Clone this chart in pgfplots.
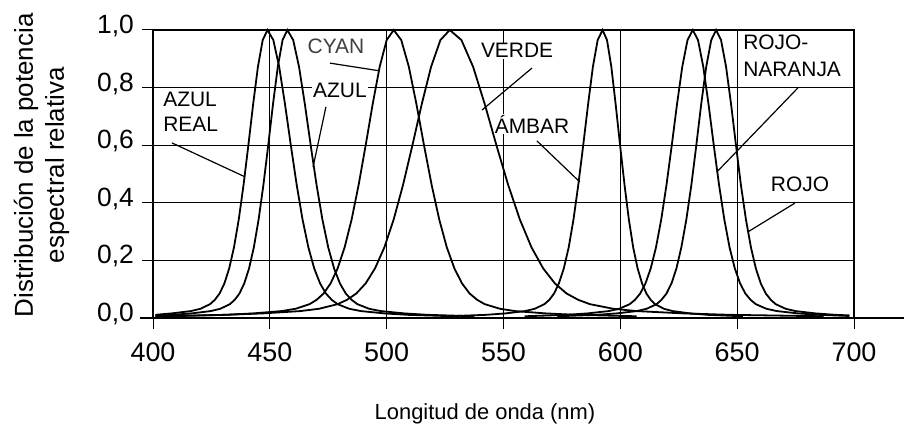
\documentclass[border=0pt]{standalone}
\usepackage{pgfplots}
\pgfplotsset{compat=1.18}
\usepackage{fontspec}
\setmainfont{Liberation Sans}
\tikzset{lbl/.style={fill=white, inner sep=1bp, font=\fontsize{21}{24}\selectfont},
  spec/.style={black, mark=none, solid, line width=1.8bp}}
\begin{document}
\begin{tikzpicture}
\begin{axis}[
  name=ax,
  at={(153bp,111bp)}, anchor=south west,
  scale only axis, width=701bp, height=288bp,
  xmin=400, xmax=700, ymin=0, ymax=1,
  clip=false,
  axis line style={line width=2.4bp},
  xtick={400,450,500,550,600,650,700},
  xticklabels={400,450,500,550,600,650,700},
  ytick={0,0.2,0.4,0.6,0.8,1.0},
  yticklabels={0{,}0,0{,}2,0{,}4,0{,}6,0{,}8,1{,}0},
  tick align=outside,
  major tick length=11bp,
  tick style={black, line width=1bp},
  xtick pos=bottom, ytick pos=left,
  xmajorgrids, ymajorgrids,
  major grid style={black, line width=1bp},
  xticklabel style={font=\fontsize{27}{27}\selectfont, anchor=base, inner sep=0pt, yshift=-32bp},
  yticklabel style={font=\fontsize{26.5}{27}\selectfont, anchor=east, inner sep=0pt, xshift=-8bp, yshift=4bp},
  xlabel={Longitud de onda (nm)},
  xlabel style={font=\fontsize{22}{26}\selectfont, at={(axis description cs:0.4736,0)}, anchor=base, yshift=-101bp},
  ylabel={Distribución de la potencia\\espectral relativa},
  ylabel style={font=\fontsize{26}{31}\selectfont, align=center, at={(axis description cs:-0.159,0.53)}, anchor=center},
]
% Azul real
\addplot[spec] coordinates {(401,0.011) (408,0.016) (416.2,0.024) (420.3,0.032) (424.4,0.048) (426.45,0.063) (428.5,0.085) (430.55,0.120) (432.6,0.172) (434.65,0.245) (436.7,0.342) (438.75,0.462) (440.8,0.599) (442.85,0.742) (444.9,0.872) (446.95,0.965) (449,1) (451.5,0.965) (454,0.872) (456.5,0.742) (459,0.599) (461.5,0.462) (464,0.342) (466.5,0.245) (469,0.172) (471.5,0.120) (474,0.085) (476.5,0.063) (479,0.048) (484,0.032) (489,0.024) (499,0.016) (509,0.011) (529,0.006)};
% Azul
\addplot[spec] coordinates {(401,0.007) (408.3,0.011) (416.5,0.016) (424.7,0.024) (428.8,0.032) (432.9,0.048) (434.95,0.063) (437,0.085) (439.05,0.120) (441.1,0.172) (443.15,0.245) (445.2,0.342) (447.25,0.462) (449.3,0.599) (451.35,0.742) (453.4,0.872) (455.45,0.965) (457.5,1) (460,0.965) (462.5,0.872) (465,0.742) (467.5,0.599) (470,0.462) (472.5,0.342) (475,0.245) (477.5,0.172) (480,0.120) (482.5,0.085) (485,0.063) (487.5,0.048) (492.5,0.032) (497.5,0.024) (507.5,0.016) (517.5,0.011) (537.5,0.006)};
% Cyan
\addplot[spec] coordinates {(407,0.006) (431,0.011) (443,0.016) (455,0.024) (461,0.032) (467,0.048) (470,0.063) (473,0.085) (476,0.120) (479,0.172) (482,0.245) (485,0.342) (488,0.462) (491,0.599) (494,0.742) (497,0.872) (500,0.965) (503,1) (506.25,0.965) (509.5,0.872) (512.75,0.742) (516,0.599) (519.25,0.462) (522.5,0.342) (525.75,0.245) (529,0.172) (532.25,0.120) (535.5,0.085) (538.75,0.063) (542,0.048) (548.5,0.032) (555,0.024) (568,0.016) (581,0.011) (607,0.006)};
% Verde
\addplot[spec] coordinates {(401,0.006) (431,0.011) (447,0.016) (463,0.024) (471,0.032) (479,0.048) (483,0.063) (487,0.085) (491,0.120) (495,0.172) (499,0.245) (503,0.342) (507,0.462) (511,0.599) (515,0.742) (519,0.872) (523,0.965) (527,1) (532,0.965) (537,0.872) (542,0.742) (547,0.599) (552,0.462) (557,0.342) (562,0.245) (567,0.172) (572,0.120) (577,0.085) (582,0.063) (587,0.048) (597,0.032) (607,0.024) (627,0.016) (647,0.011) (687,0.006)};
% Ambar
\addplot[spec] coordinates {(526,0.006) (542.6,0.011) (550.9,0.016) (559.2,0.024) (563.35,0.032) (567.5,0.048) (569.6,0.063) (571.65,0.085) (573.7,0.120) (575.8,0.172) (577.9,0.245) (579.95,0.342) (582,0.462) (584.1,0.599) (586.2,0.742) (588.25,0.872) (590.3,0.965) (592.4,1) (594.3,0.965) (596.15,0.872) (598,0.742) (599.9,0.599) (601.8,0.462) (603.65,0.342) (605.5,0.245) (607.4,0.172) (609.3,0.120) (611.15,0.085) (613,0.063) (614.9,0.048) (618.65,0.032) (622.4,0.024) (629.9,0.016) (637.4,0.011) (652.4,0.006)};
% Rojo-naranja
\addplot[spec] coordinates {(559,0.006) (577,0.011) (586,0.016) (595,0.024) (599.5,0.032) (604,0.048) (606.25,0.063) (608.5,0.085) (610.75,0.120) (613,0.172) (615.25,0.245) (617.5,0.342) (619.75,0.462) (622,0.599) (624.25,0.742) (626.5,0.872) (628.75,0.965) (631,1) (633.25,0.965) (635.5,0.872) (637.75,0.742) (640,0.599) (642.25,0.462) (644.5,0.342) (646.75,0.245) (649,0.172) (651.25,0.120) (653.5,0.085) (655.75,0.063) (658,0.048) (662.5,0.032) (667,0.024) (676,0.016) (685,0.011) (698,0.007)};
% Rojo
\addplot[spec] coordinates {(573,0.006) (590,0.011) (598.5,0.016) (607,0.024) (611.25,0.032) (615.5,0.048) (617.6,0.063) (619.75,0.085) (621.9,0.120) (624,0.172) (626.1,0.245) (628.25,0.342) (630.4,0.462) (632.5,0.599) (634.6,0.742) (636.75,0.872) (638.9,0.965) (641,1) (643.1,0.965) (645.25,0.872) (647.4,0.742) (649.5,0.599) (651.6,0.462) (653.75,0.342) (655.9,0.245) (658,0.172) (660.1,0.120) (662.25,0.085) (664.4,0.063) (666.5,0.048) (670.75,0.032) (675,0.024) (683.5,0.016) (692,0.011) (698,0.009)};
% extended x axis line
\draw[line width=2.4bp] (rel axis cs:-0.0185,0) -- (rel axis cs:1.072,0);
% pointers
\draw[line width=1.2bp] (axis cs:408.1,0.608) -- (axis cs:439.4,0.490);
\draw[line width=1.2bp] (axis cs:474.0,0.733) -- (axis cs:468.5,0.524);
\draw[line width=1.2bp] (axis cs:475.7,0.885) -- (axis cs:497.1,0.858);
\draw[line width=1.2bp] (axis cs:562.2,0.868) -- (axis cs:540.8,0.722);
\draw[line width=1.2bp] (axis cs:564.3,0.615) -- (axis cs:582.7,0.472);
\draw[line width=1.2bp] (axis cs:676.0,0.799) -- (axis cs:641.3,0.507);
\draw[line width=1.2bp] (axis cs:674.7,0.399) -- (axis cs:654.6,0.299);
% labels
\node[lbl, anchor=base west] at (axis cs:403.9,0.733) {AZUL};
\node[lbl, anchor=base west] at (axis cs:403.9,0.646) {REAL};
\node[lbl, anchor=base] at (axis cs:480.0,0.764) {AZUL};
\node[lbl, anchor=base, text=black!75] at (axis cs:478.3,0.920) {CYAN};
\node[lbl, anchor=base] at (axis cs:555.8,0.903) {VERDE};
\node[lbl, anchor=base] at (axis cs:562.2,0.642) {ÁMBAR};
\node[lbl, anchor=base west] at (axis cs:652.1,0.931) {ROJO-};
\node[lbl, anchor=base west] at (axis cs:652.1,0.840) {NARANJA};
\node[lbl, anchor=base] at (axis cs:676.9,0.4375) {ROJO};
\end{axis}
\pgfresetboundingbox
\path[use as bounding box] (0,0) rectangle (904bp,429bp);
\end{tikzpicture}
\end{document}
